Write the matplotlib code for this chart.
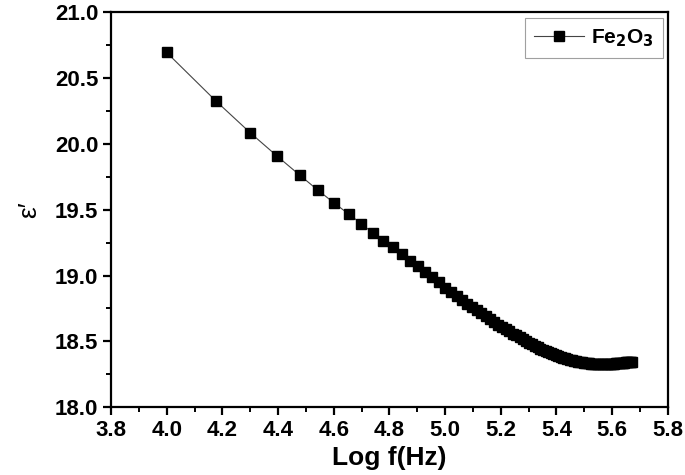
import numpy as np
import matplotlib
matplotlib.use("Agg")
import matplotlib.pyplot as plt
from matplotlib.ticker import MultipleLocator

plt.rcParams['font.family'] = ['Liberation Sans', 'DejaVu Sans']

freq_khz = [10, 15, 20, 25, 30, 35, 40, 45, 50, 55, 60, 65, 70, 75, 80, 85, 90,
            95, 100, 105, 110, 115, 120, 125, 130, 135, 140, 145, 150, 155, 160,
            165, 170, 175, 180, 185, 190, 195, 200, 205, 210, 215, 220, 225, 230,
            235, 240, 245, 250, 255, 260, 265, 270, 275, 280, 285, 290, 295, 300,
            305, 310, 315, 320, 325, 330, 335, 340, 345, 350, 355, 360, 365, 370,
            375, 380, 385, 390, 395, 400, 405, 410, 415, 420, 425, 430, 435, 440,
            445, 450, 455, 460, 465, 470]

eps_real = [20.695, 20.328, 20.083, 19.905, 19.764, 19.647, 19.550, 19.468, 19.394,
            19.323, 19.265, 19.214, 19.166, 19.111, 19.070, 19.027, 18.989,
            18.948, 18.908, 18.874, 18.843, 18.813, 18.786, 18.760, 18.736, 18.712,
            18.690, 18.668, 18.647, 18.627, 18.608, 18.591, 18.575, 18.559, 18.544,
            18.529, 18.515, 18.502, 18.489, 18.477, 18.466, 18.455, 18.445, 18.435,
            18.426, 18.417, 18.409, 18.401, 18.394, 18.388, 18.382, 18.376, 18.371,
            18.366, 18.361, 18.357, 18.353, 18.349, 18.346, 18.343, 18.340, 18.338,
            18.336, 18.334, 18.332, 18.330, 18.329, 18.328, 18.327, 18.326, 18.326,
            18.326, 18.326, 18.326, 18.327, 18.327, 18.328, 18.329, 18.330, 18.331,
            18.332, 18.333, 18.334, 18.335, 18.336, 18.337, 18.338, 18.339, 18.340,
            18.341, 18.342, 18.343, 18.344]

series_label = 'Fe$_\\mathbf{2}$O$_\\mathbf{3}$'
x_label = 'Log f(Hz)'
y_label = 'ε′'

logf = np.log10(np.array(freq_khz) * 1000.0)

fig = plt.figure(figsize=(6.85, 4.75), dpi=100)
ax = fig.add_axes([0.162, 0.143, 0.813, 0.831])

ax.plot(logf, eps_real, color='#444444', linewidth=0.8, marker='s',
        markersize=6.5, markerfacecolor='black', markeredgecolor='black',
        label=series_label)

ax.set_xlim(3.8, 5.8)
ax.set_ylim(18.0, 21.0)
ax.xaxis.set_major_locator(MultipleLocator(0.2))
ax.xaxis.set_minor_locator(MultipleLocator(0.1))
ax.yaxis.set_major_locator(MultipleLocator(0.5))
ax.yaxis.set_minor_locator(MultipleLocator(0.25))
ax.xaxis.set_major_formatter(matplotlib.ticker.FormatStrFormatter('%.1f'))
ax.yaxis.set_major_formatter(matplotlib.ticker.FormatStrFormatter('%.1f'))

for s in ax.spines.values():
    s.set_linewidth(1.6)

ax.tick_params(which='major', direction='out', length=6, width=1.6,
               labelsize=16, pad=3)
ax.tick_params(which='minor', direction='out', length=3.5, width=1.4)
for lab in ax.get_xticklabels() + ax.get_yticklabels():
    lab.set_fontweight('bold')

ax.set_xlabel(x_label, fontsize=19, fontweight='bold', labelpad=4)
ax.set_ylabel(y_label, fontsize=19, labelpad=10)

leg = ax.legend(loc='upper right', frameon=True, fancybox=False,
                edgecolor='#888888', handlelength=2.4, borderpad=0.45,
                handletextpad=0.3, borderaxespad=0.25,
                prop={'weight': 'bold', 'size': 15})
leg.get_frame().set_linewidth(0.8)

fig.savefig('out.png', dpi=100, facecolor='white')
